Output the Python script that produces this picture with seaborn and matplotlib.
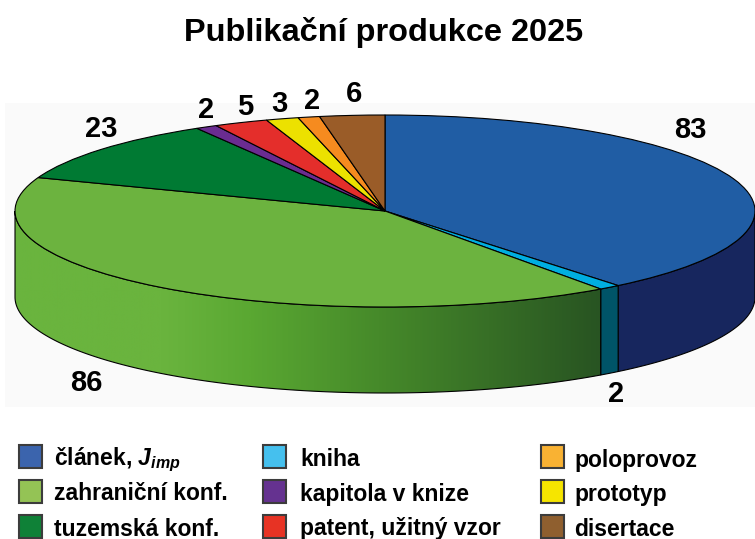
# Publikacni produkce 2025 - pseudo 3D kolac
import numpy as np
import matplotlib
matplotlib.use("Agg")
import matplotlib.pyplot as plt
from matplotlib.colors import LinearSegmentedColormap
from matplotlib.patches import Polygon, Rectangle
import seaborn as sns

categories = ["článek", "kniha", "zahraniční konf.", "tuzemská konf.", "kapitola v knize",
              "patent, užitný vzor", "prototyp", "poloprovoz", "disertace"]
values = [83, 2, 86, 23, 2, 5, 3, 2, 6]
top_colors = ["#205da4", "#00aee0", "#6cb33f", "#007a33", "#6a2c91",
              "#e42e2b", "#ece100", "#f68b1f", "#9a5c28"]
legend_colors = ["#3b64ad", "#45c0ee", "#94c355", "#0f8137", "#653290",
                 "#e73324", "#f6e500", "#f9b233", "#8f5f2f"]
title = "Publikační produkce 2025"

sns.set_theme(style="white")
plt.rcParams["font.family"] = ["Liberation Sans", "DejaVu Sans"]
plt.rcParams["font.weight"] = "bold"
plt.rcParams["mathtext.fontset"] = "custom"
plt.rcParams["mathtext.rm"] = "Liberation Sans:bold"
plt.rcParams["mathtext.it"] = "Liberation Sans:italic:bold"

W, H = 755, 539
CX, CY, RX, RY, DEPTH = 385, 211, 370, 96, 86

fig = plt.figure(figsize=(W / 100, H / 100), dpi=100, facecolor="white")
ax = fig.add_axes([0, 0, 1, 1])
ax.set_xlim(0, W)
ax.set_ylim(H, 0)
ax.axis("off")

ax.add_patch(Rectangle((5, 103), 750, 304, facecolor="#fafafa", edgecolor="none", zorder=0))

# hranice vysecu ve stupnich po smeru hodin od vrcholu
edges = np.concatenate([[0], np.cumsum(values)]) / sum(values) * 360


def rim(a0, a1, n=200):
    t = np.radians(np.linspace(a0, a1, n))
    return CX + RX * np.sin(t), CY - RY * np.cos(t)


def side_poly(a0, a1):
    x, y = rim(a0, a1)
    return np.column_stack([np.r_[x, x[::-1]], np.r_[y, y[::-1] + DEPTH]])


# bocni stena: clanek, kniha, zahranicni konf.
ax.add_patch(Polygon(side_poly(90, edges[1]), facecolor="#17265e", edgecolor="black", lw=0.8, zorder=2))
ax.add_patch(Polygon(side_poly(edges[1], edges[2]), facecolor="#005468", edgecolor="black", lw=0.8, zorder=2))

green = LinearSegmentedColormap.from_list(
    "side", [(0, "#6ab43e"), (0.25, "#6ab43e"), (0.4, "#5aa832"), (0.62, "#468a2a"), (1, "#285422")])
grad = np.linspace(0, 1, 600).reshape(1, -1)
left, right = CX - RX, CX + RX * np.sin(np.radians(edges[2]))
im = ax.imshow(grad, cmap=green, extent=[left, right, 400, 180], aspect="auto", zorder=2)
ax.set_xlim(0, W)
ax.set_ylim(H, 0)
green_side = Polygon(side_poly(edges[2], 270), facecolor="none", edgecolor="black", lw=0.8, zorder=3)
ax.add_patch(green_side)
im.set_clip_path(green_side)

# horni plocha
pie_ax = fig.add_axes([(CX - RX) / W, (H - CY - RY) / H, 2 * RX / W, 2 * RY / H])
pie_ax.patch.set_alpha(0)
pie_ax.pie(values, colors=sns.color_palette(top_colors), startangle=90, counterclock=False,
           radius=1, wedgeprops={"edgecolor": "black", "linewidth": 0.8})
pie_ax.set_aspect("auto")
pie_ax.set_xlim(-1, 1)
pie_ax.set_ylim(-1, 1)

# popisky hodnot
label_x = [690, 616, 86, 101, 206, 245, 279, 312, 354]
label_y = [130, 394, 383, 129, 110, 107, 104, 101, 94]
for v, lx, ly in zip(values, label_x, label_y):
    ax.text(lx, ly, str(v), fontsize=21, ha="center", va="center", color="black", zorder=5)

ax.text(384, 32, title, fontsize=23.4, ha="center", va="center", color="black")

# legenda
legend_labels = [r"článek, $\mathit{J}_{imp}$", "kniha", "poloprovoz",
                 "zahraniční konf.", "kapitola v knize", "prototyp",
                 "tuzemská konf.", "patent, užitný vzor", "disertace"]
swatch_colors = [legend_colors[0], legend_colors[1], legend_colors[7],
                 legend_colors[2], legend_colors[4], legend_colors[6],
                 legend_colors[3], legend_colors[5], legend_colors[8]]
col_box = [19, 263, 541]
col_text = [54, 300, 574]
row_box = [445, 480, 515]
row_text = [460, 494, 529]
for i, (lab, c) in enumerate(zip(legend_labels, swatch_colors)):
    r, k = divmod(i, 3)
    ax.add_patch(Rectangle((col_box[k], row_box[r]), 23, 23, facecolor=c, edgecolor="#3c3c3c", lw=1.5))
    ax.text(col_text[k], row_text[r], lab, fontsize=16.5, ha="left", va="center", color="black")

fig.savefig("out.png", dpi=100)
